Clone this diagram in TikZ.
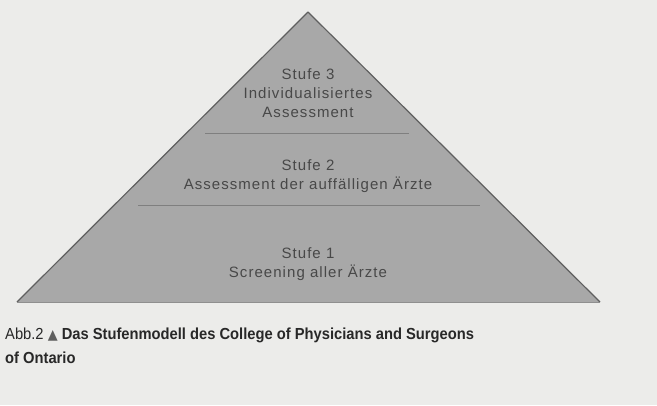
\documentclass[tikz,border=0pt]{standalone}
\usepackage{fontspec}
\setmainfont{Liberation Sans}
\newfontfamily\symfont{DejaVu Sans}
\newfontfamily\spacedfont[LetterSpace=7]{Liberation Sans}
\usetikzlibrary{calc}
\definecolor{bg}{RGB}{236,236,234}
\definecolor{pyr}{RGB}{168,168,168}
\definecolor{edge}{RGB}{95,95,95}
\definecolor{txt}{RGB}{72,72,72}
\definecolor{cap}{RGB}{40,40,40}
\tikzset{
  level/.style={text=txt, font=\spacedfont\fontsize{15}{19}\selectfont, align=center, inner sep=0pt},
  divider/.style={draw=edge!80, line width=0.8pt},
  captext/.style={text=cap, anchor=base west, inner sep=0pt, font=\fontsize{16}{20}\selectfont}
}
\begin{document}
\begin{tikzpicture}[x=1pt,y=-1pt]
\fill[bg] (0,0) rectangle (657,405);
\useasboundingbox (0,0) rectangle (657,405);
\coordinate (L) at (17,302);
\coordinate (R) at (600,302);
\coordinate (T) at (308,12);
\fill[pyr] (L) -- (T) -- (R) -- cycle;
\draw[edge, line width=1.2pt, line join=round] (L) -- (T) -- (R);
\draw[edge!70, line width=0.6pt] (L) -- (R);
\coordinate (d1a) at (205,133);
\coordinate (d1b) at (409,133);
\coordinate (d2a) at (138,205);
\coordinate (d2b) at (480,205);
\draw[divider] (d1a) -- (d1b);
\draw[divider] (d2a) -- (d2b);
\node[level] (s3) at (308,93) {Stufe 3\\Individualisiertes\\Assessment};
\node[level] (s2) at (308,176.5) {Stufe 2\\Assessment der auffälligen Ärzte};
\node[level] (s1) at (308,264) {Stufe 1\\Screening aller Ärzte};
\node[captext] (c1) at (5,339) {\scalebox{0.92}[1]{Abb.2 {\symfont\fontsize{14}{14}\selectfont\color{cap!75}▲} \bfseries Das Stufenmodell des College of Physicians and Surgeons}};
\node[captext] (c2) at (5,363) {\scalebox{0.92}[1]{\bfseries of Ontario}};
\end{tikzpicture}
\end{document}
